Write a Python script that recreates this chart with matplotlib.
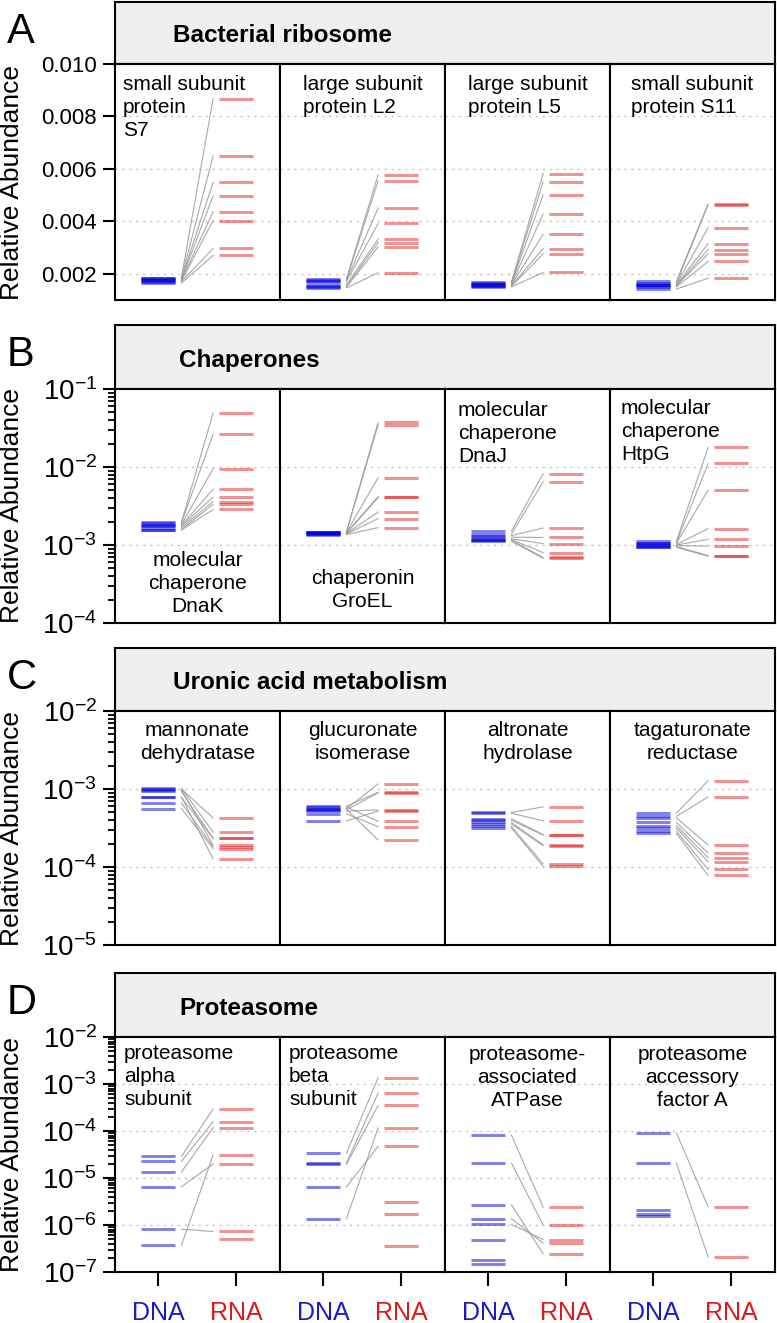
"""
Paired DNA / RNA relative abundance for four groups of genes (panels A-D).
"""

import numpy as np
import matplotlib
matplotlib.use("Agg")
import matplotlib.pyplot as plt
from matplotlib.ticker import LogLocator, NullFormatter, FormatStrFormatter

plt.rcParams['font.family'] = ['Liberation Sans', 'DejaVu Sans']
plt.rcParams['mathtext.default'] = 'regular'

# ---- data ----
NAN = np.nan

# A: Bacterial ribosome
ribo_names = ["small subunit\nprotein\nS7", "large subunit\nprotein L2",
              "large subunit\nprotein L5", "small subunit\nprotein S11"]
ribo_dna = [
	[0.00185, 0.00183, 0.00180, 0.00178, 0.00175, 0.00172, 0.00170, 0.00165],
	[0.00180, 0.00177, 0.00174, 0.00170, 0.00158, 0.00152, 0.00149, 0.00146],
	[0.00168, 0.00165, 0.00162, 0.00160, 0.00157, 0.00155, 0.00152, 0.00150],
	[0.00172, 0.00165, 0.00160, 0.00158, 0.00156, 0.00154, 0.00150, 0.00142],
]
ribo_rna = [
	[0.00868, 0.00650, 0.00549, 0.00497, 0.00437, 0.00403, 0.00297, 0.00270],
	[0.00577, 0.00554, 0.00451, 0.00392, 0.00332, 0.00319, 0.00303, 0.00204],
	[0.00582, 0.00550, 0.00501, 0.00428, 0.00350, 0.00296, 0.00276, 0.00205],
	[0.00466, 0.00463, 0.00376, 0.00315, 0.00292, 0.00276, 0.00247, 0.00183],
]

# B: Chaperones
chap_names = ["molecular\nchaperone\nDnaK", "chaperonin\nGroEL",
              "molecular\nchaperone\nDnaJ", "molecular\nchaperone\nHtpG"]
chap_dna = [
	[1.95e-3, 1.91e-3, 1.82e-3, 1.78e-3, 1.74e-3, 1.66e-3, 1.58e-3, 1.55e-3],
	[1.48e-3, 1.46e-3, 1.45e-3, 1.43e-3, 1.41e-3, 1.40e-3, 1.38e-3, 1.36e-3],
	[1.51e-3, 1.38e-3, 1.32e-3, 1.26e-3, 1.20e-3, 1.17e-3, 1.15e-3, 1.12e-3],
	[1.12e-3, 1.07e-3, 1.05e-3, 1.02e-3, 1.00e-3, 9.8e-4, 9.55e-4, 9.33e-4],
]
chap_rna = [
	[4.92e-2, 2.65e-2, 9.53e-3, 5.22e-3, 4.12e-3, 3.60e-3, 3.32e-3, 2.86e-3],
	[3.72e-2, 3.47e-2, 7.30e-3, 4.17e-3, 4.07e-3, 2.65e-3, 2.18e-3, 1.67e-3],
	[8.18e-3, 6.46e-3, 1.65e-3, 1.25e-3, 1.04e-3, 7.98e-4, 6.92e-4, 6.76e-4],
	[1.78e-2, 1.11e-2, 5.06e-3, 1.62e-3, 1.18e-3, 9.70e-4, 7.33e-4, 7.16e-4],
]

# C: Uronic acid metabolism
uron_names = ["mannonate\ndehydratase", "glucuronate\nisomerase",
              "altronate\nhydrolase", "tagaturonate\nreductase"]
uron_dna = [
	[1.02e-3, 1.00e-3, 9.8e-4, 9.3e-4, 7.9e-4, 7.8e-4, 6.6e-4, 5.6e-4],
	[6.0e-4, 5.9e-4, 5.6e-4, 5.5e-4, 5.4e-4, 5.2e-4, 4.8e-4, 3.9e-4],
	[5.0e-4, 4.9e-4, 4.17e-4, 3.98e-4, 3.72e-4, 3.55e-4, 3.31e-4, 3.16e-4],
	[4.9e-4, 4.47e-4, 4.27e-4, 3.72e-4, 3.39e-4, 3.16e-4, 2.88e-4, 2.69e-4],
]
uron_rna = [
	[2.81e-4, 4.25e-4, 1.91e-4, 2.32e-4, 1.27e-4, 2.34e-4, 1.82e-4, 1.72e-4],
	[9.1e-4, 3.85e-4, 1.16e-3, 2.22e-4, 8.9e-4, 5.4e-4, 3.29e-4, 5.2e-4],
	[5.9e-4, 3.9e-4, 2.6e-4, 2.57e-4, 1.93e-4, 1.88e-4, 1.10e-4, 1.02e-4],
	[1.28e-3, 7.9e-4, 1.92e-4, 1.51e-4, 1.32e-4, 1.17e-4, 9.3e-5, 7.8e-5],
]

# D: Proteasome (NaN = not detected in that fraction)
prot_names = ["proteasome\nalpha\nsubunit", "proteasome\nbeta\nsubunit",
              "proteasome-\nassociated\nATPase", "proteasome\naccessory\nfactor A"]
prot_dna = [
	[2.89e-5, 2.26e-5, 1.34e-5, 6.5e-6, 8.1e-7, 3.7e-7, NAN],
	[3.35e-5, 2.08e-5, 1.95e-5, 6.5e-6, 1.36e-6, NAN, NAN, NAN],
	[8.2e-5, 2.08e-5, 2.7e-6, 1.36e-6, 1.03e-6, 4.9e-7, 1.77e-7, 1.5e-7],
	[9.1e-5, 2.08e-5, 2.1e-6, 1.74e-6, 1.53e-6],
]
prot_rna = [
	[2.94e-4, 1.58e-4, 1.18e-4, 1.99e-5, 7.3e-7, 3.08e-5, 5.1e-7],
	[1.36e-3, 6.4e-4, 3.5e-4, 4.7e-5, 1.16e-4, 3.1e-6, 1.71e-6, 3.6e-7],
	[2.4e-6, 1.0e-6, 2.45e-7, 4.1e-7, 4.9e-7, NAN, NAN, NAN],
	[2.45e-6, 2.08e-7, NAN, NAN, NAN],
]

panel_titles = ["Bacterial ribosome", "Chaperones", "Uronic acid metabolism", "Proteasome"]
panel_letters = ["A", "B", "C", "D"]
x_labels = ["DNA", "RNA"]


# ---- layout (pixels) ----
W, H = 777, 1323
COL_X = [115, 280, 445, 610, 775]
# header top, plot top, plot bottom
ROWS = [(2, 64, 300), (325, 389, 623), (648, 711, 945), (973, 1037, 1272)]
TITLE_DX = [58, 64, 58, 64]
# per column: (ha, x offset from column left or None for centre, top offset, multialignment)
LABEL_POS = [
	[("left", 8, 11, "left"), ("center", None, 11, "left"),
	 ("center", None, 11, "left"), ("center", None, 11, "left")],
	[("center", None, 162, "center"), ("center", None, 180, "center"),
	 ("left", 13, 12, "left"), ("left", 11, 10, "left")],
	[("center", None, 10, "center")] * 4,
	[("left", 9, 7, "left"), ("left", 9, 7, "left"),
	 ("center", None, 8, "center"), ("center", None, 8, "center")],
]

DNA_COLOR = "#0000dc"
RNA_COLOR = "#e61e1e"
LINE_COLOR = "#9a9a9a"
XLIM = (0.441, 2.565)
HALF_BAR = 0.219
LINK_GAP = 0.296


def px_axes(fig, left, top, right, bottom):
	return fig.add_axes([left / W, 1 - bottom / H, (right - left) / W, (bottom - top) / H])


def style_spines(ax):
	for sp in ax.spines.values():
		sp.set_linewidth(1.5)
		sp.set_color("black")


def draw_panel(fig, row, names, dna, rna, log, ylim, last):
	head_top, top, bottom = ROWS[row]
	# grey header with panel title
	hax = px_axes(fig, COL_X[0], head_top, COL_X[-1], top)
	hax.set_facecolor("#efefef")
	hax.set_xticks([])
	hax.set_yticks([])
	style_spines(hax)
	hax.text(TITLE_DX[row] / (COL_X[-1] - COL_X[0]), 0.35, panel_titles[row],
		transform=hax.transAxes, fontsize=17.5, fontweight="bold", va="baseline")
	fig.text(7 / W, 1 - (head_top + 41) / H, panel_letters[row], fontsize=30, va="baseline")
	fig.text(12 / W, 1 - (top + bottom) / 2 / H, "Relative Abundance", fontsize=19,
		rotation=90, ha="center", va="center")

	for c in range(4):
		ax = px_axes(fig, COL_X[c], top, COL_X[c + 1], bottom)
		style_spines(ax)
		if log:
			ax.set_yscale("log")
			ax.yaxis.set_major_locator(LogLocator(base=10, numticks=12))
			ax.yaxis.set_minor_locator(LogLocator(base=10, subs=np.arange(2, 10), numticks=12))
			ax.yaxis.set_minor_formatter(NullFormatter())
		else:
			ax.set_yticks([0.002, 0.004, 0.006, 0.008, 0.010])
			ax.yaxis.set_major_formatter(FormatStrFormatter("%.3f"))
		ax.set_ylim(*ylim)
		ax.set_xlim(*XLIM)
		ax.grid(axis="y", which="major", linestyle=(0, (1.5, 3.5)), color="#c4c4c4", linewidth=1)
		ax.set_axisbelow(True)
		if c == 0:
			ax.tick_params(axis="y", which="major", direction="out", length=9, width=1.5,
				labelsize=20 if log else 16, pad=4)
			ax.tick_params(axis="y", which="minor", direction="out", length=5, width=1.3)
		else:
			ax.tick_params(axis="y", which="both", left=False, labelleft=False)

		d = np.array(dna[c], dtype=float)
		r = np.array(rna[c], dtype=float)
		for a, b in zip(d, r):
			if np.isfinite(a) and np.isfinite(b):
				ax.plot([1 + LINK_GAP, 2 - LINK_GAP], [a, b], color=LINE_COLOR, lw=0.8, alpha=0.85)
		ok = np.isfinite(d)
		ax.hlines(d[ok], 1 - HALF_BAR, 1 + HALF_BAR, color=DNA_COLOR, alpha=0.5, lw=2.1)
		ok = np.isfinite(r)
		ax.hlines(r[ok], 2 - HALF_BAR, 2 + HALF_BAR, color=RNA_COLOR, alpha=0.5, lw=2.1)

		if last:
			ax.set_xticks([1, 2], labels=x_labels)
			ax.tick_params(axis="x", direction="out", length=10, width=1.5, labelsize=18, pad=11)
			for lab, col in zip(ax.get_xticklabels(), ["#1a1acc", "#dd1a1a"]):
				lab.set_color(col)
		else:
			ax.set_xticks([])

		ha, dx, dy, malign = LABEL_POS[row][c]
		x = COL_X[c] + dx if dx is not None else (COL_X[c] + COL_X[c + 1]) / 2
		fig.text(x / W, 1 - (top + dy) / H, names[c], fontsize=15, ha=ha, va="top",
			multialignment=malign, linespacing=1.28)


def main():
	fig = plt.figure(figsize=(W / 100, H / 100), dpi=100)
	draw_panel(fig, 0, ribo_names, ribo_dna, ribo_rna, False, (0.001, 0.010), False)
	draw_panel(fig, 1, chap_names, chap_dna, chap_rna, True, (1e-4, 1e-1), False)
	draw_panel(fig, 2, uron_names, uron_dna, uron_rna, True, (1e-5, 1e-2), False)
	draw_panel(fig, 3, prot_names, prot_dna, prot_rna, True, (1e-7, 1e-2), True)
	fig.savefig("out.png", dpi=100)


if __name__ == "__main__":
	main()
